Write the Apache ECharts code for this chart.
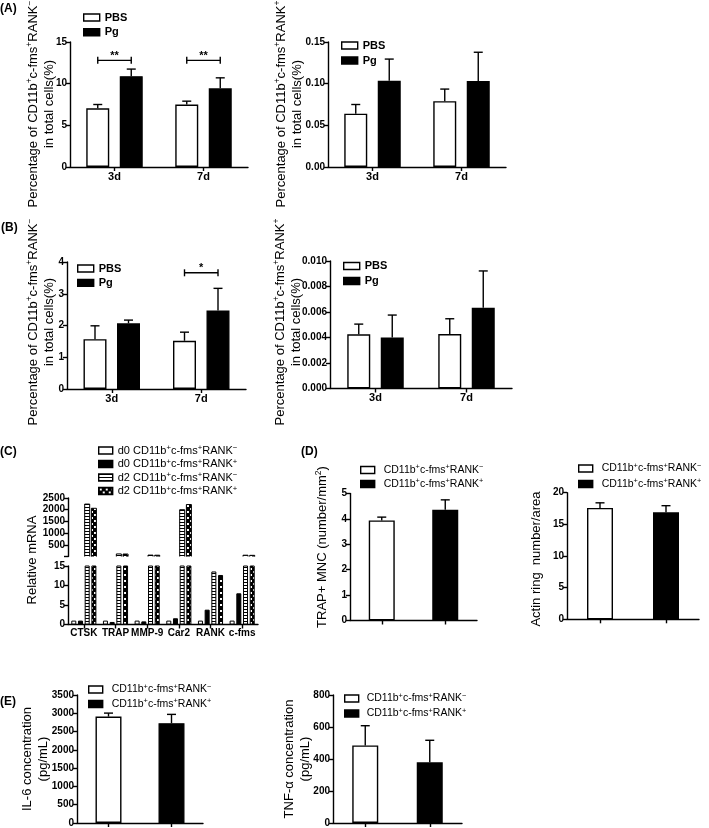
<!DOCTYPE html>
<html><head><meta charset="utf-8"><title>Figure</title>
<script src="https://cdn.jsdelivr.net/npm/echarts@6.0.0/dist/echarts.min.js"></script>
<style>html,body{margin:0;padding:0;background:#fff;}#chart{width:709px;height:828px;}</style>
</head><body><div id="chart"></div>
<script>
// ================= DATA =================
const timeLabels = ['3d', '7d'];
const groupLabels = ['PBS', 'Pg'];
// (A) CD11b+c-fms+RANK- (% of total cells)
const aNegYTicks = [0, 5, 10, 15];
const aNegPBS = [7.05, 7.5];
const aNegPBSSem = [0.45, 0.4];
const aNegPg = [10.9, 9.45];
const aNegPgSem = [0.85, 1.25];
const aNegSigY = [12.8, 12.8];
const aNegSigText = ['**', '**'];
// (A) CD11b+c-fms+RANK+
const aPosYTicks = [0, 0.05, 0.10, 0.15];
const aPosPBS = [0.064, 0.079];
const aPosPBSSem = [0.011, 0.0145];
const aPosPg = [0.1035, 0.1032];
const aPosPgSem = [0.026, 0.0345];
// (B) CD11b+c-fms+RANK-
const bNegYTicks = [0, 1, 2, 3, 4];
const bNegPBS = [1.57, 1.52];
const bNegPBSSem = [0.42, 0.27];
const bNegPg = [2.07, 2.47];
const bNegPgSem = [0.10, 0.70];
const bNegSigY = [null, 3.66];
const bNegSigText = ['', '*'];
// (B) CD11b+c-fms+RANK+
const bPosYTicks = [0, 0.002, 0.004, 0.006, 0.008, 0.010];
const bPosPBS = [0.00425, 0.00427];
const bPosPBSSem = [0.0008, 0.0012];
const bPosPg = [0.0040, 0.00634];
const bPosPgSem = [0.00176, 0.00288];
// (C) relative mRNA
const genes = ['CTSK', 'TRAP', 'MMP-9', 'Car2', 'RANK', 'c-fms'];
const cSeriesNames = ['d0 CD11b+c-fms+RANK-', 'd0 CD11b+c-fms+RANK+', 'd2 CD11b+c-fms+RANK-', 'd2 CD11b+c-fms+RANK+'];
const d0Neg = [1.0, 1.0, 1.0, 1.0, 1.0, 1.0];
const d0Pos = [1.0, 0.65, 0.8, 1.6, 3.8, 8.0];
const d2Neg = [2240, 110, 60, 2000, 13.6, 55];
const d2Pos = [2060, 105, 55, 2220, 12.7, 50];
const cUpperYTicks = [0, 500, 1000, 1500, 2000, 2500];
const cLowerYTicks = [0, 5, 10, 15];
const cBreakValue = 15;
// (D)
const cellLabels = ['CD11b+c-fms+RANK-', 'CD11b+c-fms+RANK+'];
const dTrapYTicks = [0, 1, 2, 3, 4, 5];
const trapMNC = [3.94, 4.36];
const trapMNCSem = [0.13, 0.39];
const dActinYTicks = [0, 5, 10, 15, 20];
const actinRing = [17.6, 16.9];
const actinRingSem = [0.8, 1.05];
// (E)
const eIl6YTicks = [0, 500, 1000, 1500, 2000, 2500, 3000, 3500];
const il6 = [2910, 2730];
const il6Sem = [95, 240];
const eTnfYTicks = [0, 200, 400, 600, 800];
const tnfa = [485, 380];
const tnfaSem = [123, 137];

// ================= STYLE / LAYOUT =================
const FONT = '"Liberation Sans", Arial, Helvetica, sans-serif';
const BLACK = '#000';
const LW = 1.4;
const whiteBar = {color: '#fff', borderColor: BLACK, borderWidth: LW};
const blackBar = {color: BLACK, borderColor: BLACK, borderWidth: LW};

function makeStripes() {
  const c = document.createElement('canvas'); c.width = 4; c.height = 3;
  const g = c.getContext('2d');
  g.fillStyle = '#fff'; g.fillRect(0, 0, 4, 3);
  g.fillStyle = '#000'; g.fillRect(0, 0, 4, 1);
  return {image: c, repeat: 'repeat'};
}
function makeDots() {
  const c = document.createElement('canvas'); c.width = 6; c.height = 6;
  const g = c.getContext('2d');
  g.fillStyle = '#000'; g.fillRect(0, 0, 6, 6);
  g.fillStyle = '#fff'; g.fillRect(1, 1, 2, 2); g.fillRect(4, 4, 2, 2);
  return {image: c, repeat: 'repeat'};
}
const cStyles = [
  {color: '#fff', borderColor: BLACK, borderWidth: 1},
  {color: BLACK, borderColor: BLACK, borderWidth: 1},
  {color: makeStripes(), borderColor: BLACK, borderWidth: 1},
  {color: makeDots(), borderColor: BLACK, borderWidth: 1}
];

const grids = [
  {left: 70, top: 42, width: 178, height: 125},      // 0 A left
  {left: 328, top: 42, width: 178, height: 125},     // 1 A right
  {left: 67, top: 262, width: 179, height: 127},     // 2 B left
  {left: 330, top: 261, width: 182, height: 127.5},  // 3 B right
  {left: 68, top: 498, width: 190, height: 58.5},    // 4 C upper
  {left: 68, top: 566, width: 190, height: 58.5},    // 5 C lower
  {left: 350, top: 493.5, width: 127, height: 127},  // 6 D left
  {left: 567, top: 492.7, width: 132, height: 126.6},// 7 D right
  {left: 77, top: 695, width: 126, height: 128.3},   // 8 E left
  {left: 333, top: 695, width: 129, height: 128}     // 9 E right
];

const PAIR_W = 23, PAIR_GAP = 10.5;
const PAIR_DX = (PAIR_W + PAIR_GAP) / 2;
const C_W = 5, C_GAP = 1.7;
const SINGLE_W = 26;

function yAxis(gi, ticks, fmt, extra) {
  return Object.assign({
    type: 'value', gridIndex: gi,
    min: ticks[0], max: ticks[ticks.length - 1], interval: ticks[1] - ticks[0],
    axisLine: {show: true, onZero: false, lineStyle: {color: BLACK, width: LW}},
    axisTick: {show: true, length: 4, lineStyle: {color: BLACK, width: LW}},
    splitLine: {show: false},
    axisLabel: {color: BLACK, fontFamily: FONT, fontSize: 10, fontWeight: 'bold', margin: 3, formatter: fmt}
  }, extra || {});
}
function xAxis(gi, cats, showLabels, extra) {
  return Object.assign({
    type: 'category', gridIndex: gi, data: cats,
    axisLine: {show: true, onZero: false, lineStyle: {color: BLACK, width: LW}},
    axisTick: {show: true, alignWithLabel: true, length: 4, lineStyle: {color: BLACK, width: LW}},
    axisLabel: {show: showLabels, interval: 0, color: BLACK, fontFamily: FONT, fontSize: 11, fontWeight: 'bold', margin: 4},
    splitLine: {show: false}
  }, extra || {});
}
const fmt = d => v => Number(v).toFixed(d);

function bar(gi, name, data, style, w, gapPct) {
  return {type: 'bar', name, xAxisIndex: gi, yAxisIndex: gi, data, barWidth: w, barGap: gapPct,
    itemStyle: style, silent: true, z: 2};
}
function errorSeries(gi, means, sems, dx, capW, only) {
  const data = [];
  means.forEach((m, i) => {
    if (only && only.indexOf(i) < 0) return;
    if (m != null && sems[i] != null) data.push([i, m, m + sems[i]]);
  });
  return {
    type: 'custom', xAxisIndex: gi, yAxisIndex: gi, z: 5, silent: true, data,
    encode: {x: 0, y: [1, 2]},
    renderItem: (params, api) => {
      const lo = api.coord([api.value(0), api.value(1)]);
      const hi = api.coord([api.value(0), api.value(2)]);
      const x = lo[0] + dx;
      return {type: 'group', children: [
        {type: 'line', shape: {x1: x, y1: lo[1], x2: x, y2: hi[1]}, style: {stroke: BLACK, lineWidth: LW}},
        {type: 'line', shape: {x1: x - capW / 2, y1: hi[1], x2: x + capW / 2, y2: hi[1]}, style: {stroke: BLACK, lineWidth: LW}}
      ]};
    }
  };
}
function sigSeries(gi, ys, texts, half) {
  const data = [];
  ys.forEach((y, i) => { if (y != null) data.push([i, y, i]); });
  return {
    type: 'custom', xAxisIndex: gi, yAxisIndex: gi, z: 5, silent: true, data,
    encode: {x: 0, y: 1},
    renderItem: (params, api) => {
      const c = api.coord([api.value(0), api.value(1)]);
      const t = texts[api.value(2)];
      const x1 = c[0] - half, x2 = c[0] + half, y = c[1];
      return {type: 'group', children: [
        {type: 'line', shape: {x1, y1: y, x2, y2: y}, style: {stroke: BLACK, lineWidth: LW}},
        {type: 'line', shape: {x1, y1: y - 3.5, x2: x1, y2: y + 3.5}, style: {stroke: BLACK, lineWidth: LW}},
        {type: 'line', shape: {x1: x2, y1: y - 3.5, x2, y2: y + 3.5}, style: {stroke: BLACK, lineWidth: LW}},
        {type: 'text', x: c[0], y: y + 1, style: {text: t, align: 'center', verticalAlign: 'bottom',
          font: 'bold 11px ' + FONT, fill: BLACK}}
      ]};
    }
  };
}
function upperBrokenSeries(gi, name, values, k, style) {
  const step = C_W + C_GAP;
  const dx = (k - 1.5) * step;
  return {
    type: 'custom', name, xAxisIndex: gi, yAxisIndex: gi, z: 2, silent: true, clip: true,
    data: values.map((v, i) => [i, v]),
    encode: {x: 0, y: 1},
    renderItem: (params, api) => {
      const v = api.value(1);
      if (!(v > cBreakValue)) return null;
      const top = api.coord([api.value(0), v]);
      const base = api.coord([api.value(0), 0]);
      return {type: 'rect',
        shape: {x: top[0] + dx - C_W / 2, y: top[1], width: C_W, height: base[1] - top[1] + 4},
        style: {fill: style.color, stroke: style.borderColor, lineWidth: style.borderWidth}};
    }
  };
}

function supRich(s) {
  return s.replace('CD11b+', 'CD11b{s|+}').replace('fms+', 'fms{s|+}')
    .replace(/RANK([+-])$/, (m, p) => 'RANK{s|' + (p === '-' ? '\u2212' : '+') + '}');
}
const supStyle = (fs) => ({s: {fontSize: fs, fontFamily: FONT, verticalAlign: 'top', color: BLACK}});

function legend(names, left, top, itemW, itemH, pitch, fs, opts) {
  opts = opts || {};
  const lh = 13;
  const rich = supStyle(fs * 0.7);
  if (opts.gap) rich.g = {width: opts.gap};
  return {
    data: names, left, top, orient: 'vertical', padding: 0, icon: 'rect',
    itemWidth: itemW, itemHeight: itemH, itemGap: pitch - lh, selectedMode: false,
    itemStyle: {borderColor: BLACK, borderWidth: LW},
    formatter: n => (opts.gap ? '{g|\u00a0}' : '') + supRich(n),
    textStyle: {fontFamily: FONT, fontSize: fs, fontWeight: opts.bold ? 'bold' : 'normal', color: BLACK, lineHeight: lh, rich}
  };
}

function vTitle(x, y, text, fs) {
  fs = fs || 13;
  return {type: 'text', x, y, rotation: Math.PI / 2, silent: true,
    style: {text, fill: BLACK, fontSize: fs, fontFamily: FONT, lineHeight: 16,
      align: 'center', verticalAlign: 'middle',
      rich: {s: {fontSize: 8.5, fontFamily: FONT, verticalAlign: 'top', fill: BLACK}}}};
}
function panelLabel(x, y, text) {
  return {type: 'text', x, y, silent: true,
    style: {text, fill: BLACK, font: 'bold 12px ' + FONT, align: 'left', verticalAlign: 'middle'}};
}

// ================= OPTION =================
const pairGap = (PAIR_GAP / PAIR_W * 100) + '%';
const cGap = (C_GAP / C_W * 100) + '%';

const series = [
  // A left
  bar(0, groupLabels[0], aNegPBS, whiteBar, PAIR_W, pairGap),
  bar(0, groupLabels[1], aNegPg, blackBar, PAIR_W, pairGap),
  errorSeries(0, aNegPBS, aNegPBSSem, -PAIR_DX, 9),
  errorSeries(0, aNegPg, aNegPgSem, PAIR_DX, 9),
  sigSeries(0, aNegSigY, aNegSigText, PAIR_DX),
  // A right
  bar(1, groupLabels[0], aPosPBS, whiteBar, PAIR_W, pairGap),
  bar(1, groupLabels[1], aPosPg, blackBar, PAIR_W, pairGap),
  errorSeries(1, aPosPBS, aPosPBSSem, -PAIR_DX, 9),
  errorSeries(1, aPosPg, aPosPgSem, PAIR_DX, 9),
  // B left
  bar(2, groupLabels[0], bNegPBS, whiteBar, PAIR_W, pairGap),
  bar(2, groupLabels[1], bNegPg, blackBar, PAIR_W, pairGap),
  errorSeries(2, bNegPBS, bNegPBSSem, -PAIR_DX, 9),
  errorSeries(2, bNegPg, bNegPgSem, PAIR_DX, 9),
  sigSeries(2, bNegSigY, bNegSigText, PAIR_DX),
  // B right
  bar(3, groupLabels[0], bPosPBS, whiteBar, PAIR_W, pairGap),
  bar(3, groupLabels[1], bPosPg, blackBar, PAIR_W, pairGap),
  errorSeries(3, bPosPBS, bPosPBSSem, -PAIR_DX, 9),
  errorSeries(3, bPosPg, bPosPgSem, PAIR_DX, 9),
  // C lower (bars clipped at the break)
  bar(5, cSeriesNames[0], d0Neg, cStyles[0], C_W, cGap),
  bar(5, cSeriesNames[1], d0Pos, cStyles[1], C_W, cGap),
  bar(5, cSeriesNames[2], d2Neg, cStyles[2], C_W, cGap),
  bar(5, cSeriesNames[3], d2Pos, cStyles[3], C_W, cGap),
  // C upper
  upperBrokenSeries(4, cSeriesNames[0], d0Neg, 0, cStyles[0]),
  upperBrokenSeries(4, cSeriesNames[1], d0Pos, 1, cStyles[1]),
  upperBrokenSeries(4, cSeriesNames[2], d2Neg, 2, cStyles[2]),
  upperBrokenSeries(4, cSeriesNames[3], d2Pos, 3, cStyles[3]),
  // D left
  bar(6, cellLabels[0], [trapMNC[0], '-'], whiteBar, SINGLE_W, '-100%'),
  bar(6, cellLabels[1], ['-', trapMNC[1]], blackBar, SINGLE_W, '-100%'),
  errorSeries(6, trapMNC, trapMNCSem, 0, 9),
  // D right
  bar(7, cellLabels[0], [actinRing[0], '-'], whiteBar, SINGLE_W, '-100%'),
  bar(7, cellLabels[1], ['-', actinRing[1]], blackBar, SINGLE_W, '-100%'),
  errorSeries(7, actinRing, actinRingSem, 0, 9),
  // E left
  bar(8, cellLabels[0], [il6[0], '-'], whiteBar, SINGLE_W, '-100%'),
  bar(8, cellLabels[1], ['-', il6[1]], blackBar, SINGLE_W, '-100%'),
  errorSeries(8, il6, il6Sem, 0, 9),
  // E right
  bar(9, cellLabels[0], [tnfa[0], '-'], whiteBar, SINGLE_W, '-100%'),
  bar(9, cellLabels[1], ['-', tnfa[1]], blackBar, SINGLE_W, '-100%'),
  errorSeries(9, tnfa, tnfaSem, 0, 9)
];

const xAxes = [
  xAxis(0, timeLabels, true),
  xAxis(1, timeLabels, true),
  xAxis(2, timeLabels, true),
  xAxis(3, timeLabels, true),
  xAxis(4, genes, false, {show: false}),
  xAxis(5, genes, true, {axisLabel: {show: true, interval: 0, color: BLACK, fontFamily: FONT, fontSize: 10, fontWeight: 'bold', margin: 4}}),
  xAxis(6, cellLabels, false),
  xAxis(7, cellLabels, false),
  xAxis(8, cellLabels, false),
  xAxis(9, cellLabels, false)
];
const yAxes = [
  yAxis(0, aNegYTicks, fmt(0)),
  yAxis(1, aPosYTicks, fmt(2)),
  yAxis(2, bNegYTicks, fmt(0)),
  yAxis(3, bPosYTicks, fmt(3)),
  yAxis(4, cUpperYTicks, v => (v === 0 ? '' : String(v))),
  yAxis(5, cLowerYTicks, fmt(0)),
  yAxis(6, dTrapYTicks, fmt(0)),
  yAxis(7, dActinYTicks, fmt(0)),
  yAxis(8, eIl6YTicks, fmt(0)),
  yAxis(9, eTnfYTicks, fmt(0))
];

const legends = [
  legend(groupLabels, 83, 11, 16, 7, 14.8, 11, {bold: true}),
  legend(groupLabels, 341, 39, 16, 7, 15, 11, {bold: true}),
  legend(groupLabels, 77, 262, 16, 7, 14.4, 11, {bold: true}),
  legend(groupLabels, 343, 259.5, 16, 7, 15, 11, {bold: true}),
  legend(cSeriesNames, 98, 444, 14, 7, 13.5, 11),
  legend(cellLabels, 360, 463.5, 14, 7, 14, 10.5, {gap: 4}),
  legend(cellLabels, 578, 462, 14, 7, 15.5, 10.5, {gap: 4}),
  legend(cellLabels, 88, 683, 14, 7, 14.5, 10.5, {gap: 4}),
  legend(cellLabels, 344, 692, 14, 7, 15, 10.5, {gap: 3})
];

const graphics = [
  panelLabel(0, 8.5, '(A)'),
  panelLabel(1, 228, '(B)'),
  panelLabel(0, 452, '(C)'),
  panelLabel(301, 452, '(D)'),
  panelLabel(0, 702, '(E)'),
  vTitle(41, 104, 'Percentage of CD11b{s|+}c-fms{s|+}RANK{s|\u2212}\nin total cells(%)'),
  vTitle(289, 104, 'Percentage of CD11b{s|+}c-fms{s|+}RANK{s|+}\nin total cells(%)'),
  vTitle(41, 322, 'Percentage of CD11b{s|+}c-fms{s|+}RANK{s|\u2212}\nin total cells(%)'),
  vTitle(288, 322, 'Percentage of CD11b{s|+}c-fms{s|+}RANK{s|+}\nin total cells(%)'),
  vTitle(32, 560, 'Relative mRNA'),
  vTitle(322, 547, 'TRAP+ MNC (number/mm{s|2})'),
  vTitle(536, 559, 'Actin ring  number/area'),
  vTitle(35.5, 759, 'IL-6 concentration\n(pg/mL)'),
  vTitle(297.5, 759, 'TNF-\u03b1 concentration\n(pg/mL)')
];

const chart = echarts.init(document.getElementById('chart'), null, {renderer: 'canvas', width: 709, height: 828});
chart.setOption({
  backgroundColor: '#fff',
  animation: false,
  grid: grids,
  xAxis: xAxes,
  yAxis: yAxes,
  legend: legends,
  series,
  graphic: {elements: graphics}
});
</script>
</body></html>
